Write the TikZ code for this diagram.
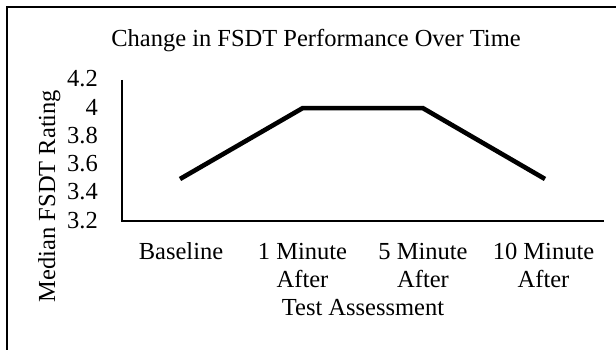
\documentclass[tikz,border=0pt]{standalone}
\usepackage{fontspec}
\setmainfont{Liberation Serif}
\begin{document}
\begin{tikzpicture}[x=1pt,y=-1pt,
  lbl/.style={inner sep=0pt,font=\fontsize{24.5}{28}\selectfont},
  ttl/.style={inner sep=0pt,font=\fontsize{24.5}{28}\selectfont},
  axisline/.style={line width=1.6pt,black},
  dataline/.style={line width=4.6pt,black,line join=miter}]
\useasboundingbox (0,0) rectangle (616,350);
\fill[white] (0,0) rectangle (616,350);
% frame
\coordinate (fbl) at (7,350);
\coordinate (ftl) at (7,7);
\coordinate (ftr) at (616,7);
\draw[line width=1.5pt] (fbl) -- (ftl) -- (ftr);
% title
\node[ttl,anchor=base] (title) at (316,47) {Change in FSDT Performance Over Time};
% axes
\coordinate (ytop) at (122,80);
\coordinate (orig) at (122,221);
\coordinate (xend) at (604,221);
\draw[axisline] (ytop) -- (orig) -- (xend);
% tick labels
\foreach \v/\yy in {4.2/80,4/108.2,3.8/136.4,3.6/164.6,3.4/192.8,3.2/221}{
  \node[lbl,anchor=base east] (t\v) at (98,\yy+7) {\v};
}
% data
\coordinate (p1) at (180,179);
\coordinate (p2) at (302.5,108.2);
\coordinate (p3) at (423,108.2);
\coordinate (p4) at (545,179);
\draw[dataline] (p1) -- (p2) -- (p3) -- (p4);
% category labels
\node[lbl,anchor=base] (c1) at (181,259) {Baseline};
\node[lbl,anchor=base] (c2) at (302.5,259) {1 Minute};
\node[lbl,anchor=base] (c2b) at (302.5,287) {After};
\node[lbl,anchor=base] (c3) at (423,259) {5 Minute};
\node[lbl,anchor=base] (c3b) at (423,287) {After};
\node[lbl,anchor=base] (c4) at (543.5,259) {10 Minute};
\node[lbl,anchor=base] (c4b) at (543.5,287) {After};
\node[lbl,anchor=base] (xlab) at (363,315) {Test Assessment};
\node[lbl,rotate=90,anchor=base] (ylab) at (55,196) {Median FSDT Rating};
\end{tikzpicture}
\end{document}
